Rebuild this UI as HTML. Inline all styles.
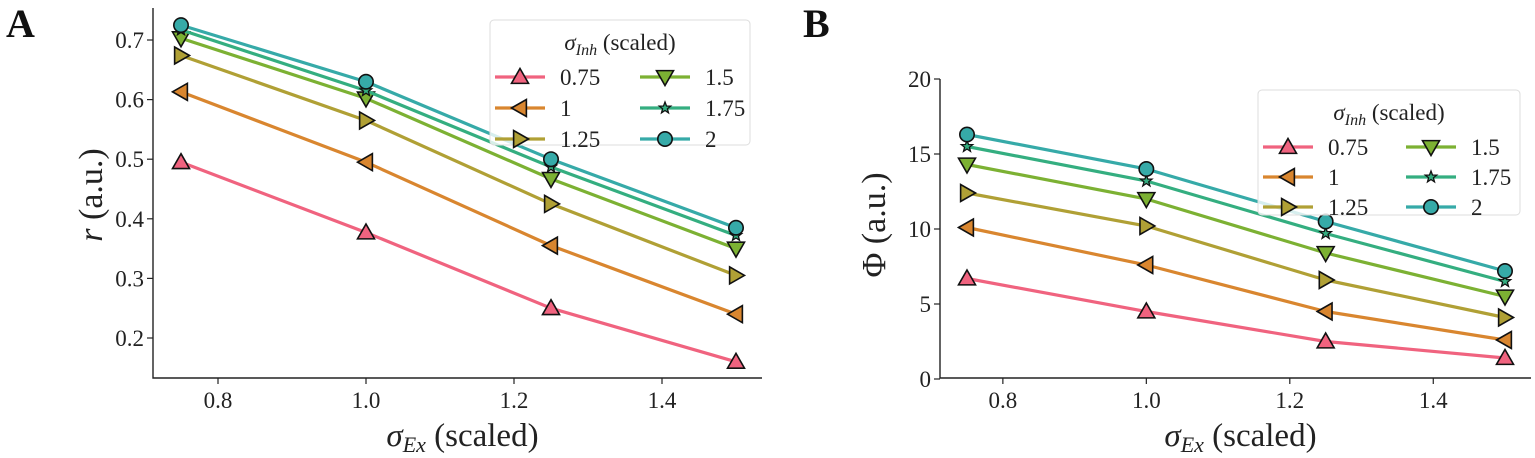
<!DOCTYPE html>
<html><head><meta charset="utf-8"><style>
body{margin:0;background:#fff;}
svg{display:block;}
svg text{font-family:"Liberation Serif","Times New Roman",serif;}
</style></head><body>
<svg id="fig" width="1535" height="458" viewBox="0 0 1535 458" xmlns="http://www.w3.org/2000/svg" font-family="Liberation Serif, serif"></svg>
<script>
const xVals = [0.75, 1.0, 1.25, 1.5];
const seriesLabels = ["0.75", "1", "1.25", "1.5", "1.75", "2"];
const seriesColors = ["#f0637f", "#d9862f", "#b0a035", "#7cb133", "#34ae80", "#36aaa8"];
const seriesMarkers = ["tri-up", "tri-left", "tri-right", "tri-down", "star", "circle"];
const rA0 = [0.495, 0.377, 0.25, 0.16];
const rA1 = [0.613, 0.495, 0.355, 0.24];
const rA2 = [0.674, 0.565, 0.425, 0.305];
const rA3 = [0.703, 0.602, 0.467, 0.35];
const rA4 = [0.717, 0.615, 0.487, 0.372];
const rA5 = [0.725, 0.63, 0.5, 0.385];
const phiB0 = [6.7, 4.5, 2.5, 1.4];
const phiB1 = [10.1, 7.6, 4.5, 2.6];
const phiB2 = [12.4, 10.2, 6.6, 4.1];
const phiB3 = [14.3, 12.0, 8.4, 5.5];
const phiB4 = [15.5, 13.2, 9.7, 6.5];
const phiB5 = [16.3, 14.0, 10.5, 7.2];
const xTicks = [0.8, 1.0, 1.2, 1.4];
const xTickLabels = ["0.8", "1.0", "1.2", "1.4"];
const yTicksA = [0.2, 0.3, 0.4, 0.5, 0.6, 0.7];
const yTicksB = [0, 5, 10, 15, 20];

const NS = "http://www.w3.org/2000/svg";
const FF = "Liberation Serif, Times New Roman, serif";
const svg = document.getElementById("fig");
function mk(tag, attrs, parent, text){
  const e = document.createElementNS(NS, tag);
  for (const k in attrs) e.setAttribute(k, attrs[k]);
  if (tag === "text") e.setAttribute("font-family", FF);
  if (text !== undefined) e.textContent = text;
  (parent||svg).appendChild(e);
  return e;
}
function marker(type, cx, cy, color, g){
  const s = 8.5;
  let el;
  const st = {fill: color, stroke: "#111", "stroke-width": 1.6};
  if (type === "circle") { el = mk("circle", Object.assign({cx, cy, r: 7.2}, st), g); }
  else if (type === "star") {
    let p = [];
    for (let i = 0; i < 10; i++) { const a = -Math.PI/2 + i*Math.PI/5; const r = i%2 ? 2.5 : 6; p.push((cx + r*Math.cos(a)).toFixed(1) + "," + (cy + r*Math.sin(a)).toFixed(1)); }
    el = mk("polygon", Object.assign({points: p.join(" ")}, st, {"stroke-width": 1.3}), g);
  } else {
    let pts;
    if (type === "tri-up") pts = [[0,-s],[s,s*0.75],[-s,s*0.75]];
    if (type === "tri-down") pts = [[0,s],[s,-s*0.75],[-s,-s*0.75]];
    if (type === "tri-left") pts = [[-s,0],[s*0.75,-s],[s*0.75,s]];
    if (type === "tri-right") pts = [[s,0],[-s*0.75,-s],[-s*0.75,s]];
    el = mk("polygon", Object.assign({points: pts.map(p => (cx+p[0]) + "," + (cy+p[1])).join(" ")}, st), g);
  }
  
  
  return el;
}

function panel(cfg){
  const g = mk("g", {});
  
  
  const X = v => cfg.x0 + (v - 0.75) / 0.75 * (cfg.x1 - cfg.x0);
  const Y = v => cfg.yb + (v - cfg.ylo) / (cfg.yhi - cfg.ylo) * (cfg.yt - cfg.yb);
  const ax = mk("path", {d: `M${cfg.axL},${cfg.axTop} V${cfg.axB} H${cfg.axR}`, fill: "none", stroke: "#222", "stroke-width": 1.4}, g);
   
  xTicks.forEach((t, i) => {
    mk("line", {x1: X(t), x2: X(t), y1: cfg.axB, y2: cfg.axB + 6, stroke: "#222", "stroke-width": 1.2}, g);
    const tl = mk("text", {x: X(t), y: cfg.axB + 30, "text-anchor": "middle", "font-size": 23, fill: "#222"}, g, xTickLabels[i]);
     
  });
  cfg.yTicks.forEach(t => {
    mk("line", {x1: cfg.axL - 6, x2: cfg.axL, y1: Y(t), y2: Y(t), stroke: "#222", "stroke-width": 1.2}, g);
    const tl = mk("text", {x: cfg.axL - 9, y: Y(t) + 8, "text-anchor": "end", "font-size": 23, fill: "#222"}, g, cfg.fmt(t));
     
  });
  const xt = mk("text", {x: (cfg.axL + cfg.axR)/2 + 5, y: 446, "text-anchor": "middle", "font-size": 33, fill: "#222"}, g);
   
  mk("tspan", {"font-style": "italic"}, xt, "σ");
  mk("tspan", {"font-style": "italic", "font-size": 22, dy: 6}, xt, "Ex");
  mk("tspan", {dy: -6}, xt, " (scaled)");
  const yt = mk("text", {transform: `translate(${cfg.ytX},${cfg.ytY}) rotate(-90)`, "text-anchor": "middle", "font-size": 34, fill: "#222"}, g);
   
  mk("tspan", {"font-style": cfg.yItalic ? "italic" : "normal"}, yt, cfg.ySym);
  mk("tspan", {}, yt, " (a.u.)");
  const pl = mk("text", {x: cfg.letterX, y: 37, "font-size": 40, "font-weight": "bold", fill: "#111"}, g, cfg.letter);
   
  cfg.data.forEach((vals, si) => {
    const pts = vals.map((v, i) => X(xVals[i]) + "," + Y(v)).join(" ");
    const ln = mk("polyline", {points: pts, fill: "none", stroke: seriesColors[si], "stroke-width": 3.2, "stroke-linejoin": "round"}, g);
     
    vals.forEach((v, i) => marker(seriesMarkers[si], X(xVals[i]), Y(v), seriesColors[si], g));
  });
  const L = cfg.leg;
  const lg = mk("g", {}, g);
   
  mk("rect", {x: L.x, y: L.y, width: L.w, height: L.h, rx: 4, fill: "rgba(255,255,255,0.8)", stroke: "#ddd", "stroke-width": 1}, lg);
  const lt = mk("text", {x: L.x + L.w/2, y: L.y + 30, "text-anchor": "middle", "font-size": 23, fill: "#222"}, lg);
   
  mk("tspan", {"font-style": "italic"}, lt, "σ");
  mk("tspan", {"font-style": "italic", "font-size": 16, dy: 5}, lt, "Inh");
  mk("tspan", {dy: -5}, lt, " (scaled)");
  seriesLabels.forEach((lab, si) => {
    const col = si < 3 ? 0 : 1, row = si % 3;
    const lx = L.x + 5 + col * L.colW, ly = L.y + 57 + row * L.rowH;
    const e = mk("g", {}, lg);
     
    mk("line", {x1: lx, x2: lx + 50, y1: ly, y2: ly, stroke: seriesColors[si], "stroke-width": 3.2}, e);
    marker(seriesMarkers[si], lx + 25, ly, seriesColors[si], e);
    mk("text", {x: lx + 65, y: ly + 8, "font-size": 23, fill: "#222"}, e, lab);
  });
}

panel({name: "panel-a", letter: "A", letterX: 6, x0: 181, x1: 736, axL: 153, axR: 762, axTop: 8, axB: 378,
  ylo: 0.2, yhi: 0.7, yb: 338, yt: 40, yTicks: yTicksA, fmt: t => t.toFixed(1),
  data: [rA0, rA1, rA2, rA3, rA4, rA5], ySym: "r", yItalic: true, ytX: 102, ytY: 195,
  leg: {x: 490, y: 20, w: 260, h: 125, colW: 145, rowH: 31}});
panel({name: "panel-b", letter: "B", letterX: 803, x0: 967, x1: 1505, axL: 940, axR: 1531, axTop: 79, axB: 378,
  ylo: 0, yhi: 20, yb: 379, yt: 79, yTicks: yTicksB, fmt: t => String(t),
  data: [phiB0, phiB1, phiB2, phiB3, phiB4, phiB5], ySym: "Φ", yItalic: false, ytX: 885, ytY: 225,
  leg: {x: 1258, y: 90, w: 262, h: 125, colW: 143, rowH: 30}});
</script>
</body></html>
